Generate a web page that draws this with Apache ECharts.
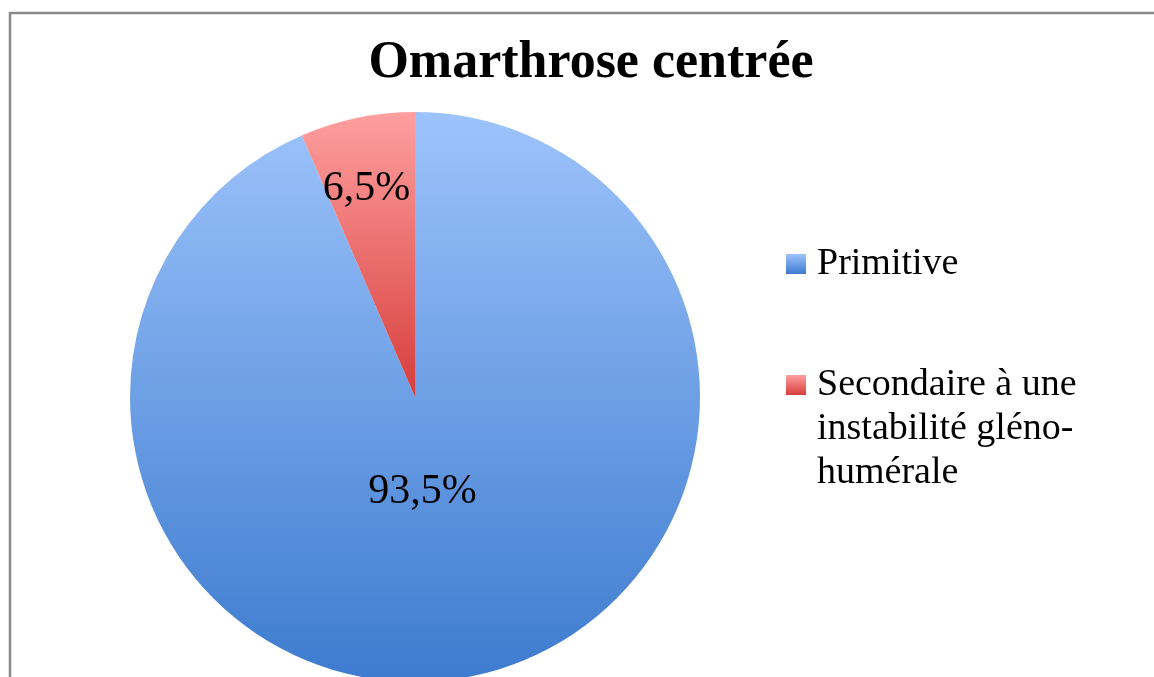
<!DOCTYPE html>
<html>
<head>
<meta charset="utf-8">
<script src="https://cdn.jsdelivr.net/npm/echarts@6/dist/echarts.min.js"></script>
<style>
  html, body { margin: 0; padding: 0; background: #fff; }
  #chart { width: 1154px; height: 677px; }
</style>
</head>
<body>
<div id="chart"></div>
<script>
// données
const categories = ['Primitive', 'Secondaire à une\ninstabilité gléno-\nhumérale']
const values = [93.5, 6.5]
const labels = ['93,5%', '6,5%']

// dégradés façon Excel (haut clair -> bas foncé)
const gradients = [
  ['#9dc3fb', '#3d7bcf'],
  ['#ff9f9f', '#d63e3c']
]
function grad (c) {
  return {
    type: 'linear', x: 0, y: 0, x2: 0, y2: 1,
    colorStops: [{ offset: 0, color: c[0] }, { offset: 1, color: c[1] }],
    global: false
  }
}

const font = '"Liberation Serif", "DejaVu Serif", serif'
const legendText = {
  fontFamily: font,
  fontSize: 38,
  lineHeight: 44,
  color: '#000',
  padding: [0, 0, 0, 6]
}

let myChart = echarts.init(document.getElementById('chart'))
myChart.setOption({
  animation: false,
  title: {
    text: 'Omarthrose centrée',
    left: 586,
    textAlign: 'center',
    top: 33,
    textStyle: {
      fontFamily: font,
      fontWeight: 'bold',
      fontSize: 52,
      color: '#000'
    }
  },
  legend: [
    {
      orient: 'vertical',
      left: 781,
      top: 237,
      itemWidth: 20,
      itemHeight: 20,
      icon: 'rect',
      data: [categories[0]],
      textStyle: legendText
    },
    {
      orient: 'vertical',
      left: 781,
      top: 270,
      itemWidth: 20,
      itemHeight: 20,
      icon: 'rect',
      data: [categories[1]],
      // deux lignes vides devant : la 1re ligne du texte reste en face de l'icône
      formatter: (name) => '\n\n' + name,
      textStyle: legendText
    }
  ],
  graphic: [
    {
      type: 'rect',
      silent: true,
      shape: { x: 10, y: 13, width: 1200, height: 720 },
      style: { fill: 'none', stroke: '#898989', lineWidth: 2.5 }
    }
  ],
  series: [
    {
      type: 'pie',
      center: [415, 397],
      radius: 285,
      startAngle: 90,
      clockwise: true,
      avoidLabelOverlap: false,
      data: categories.map((name, i) => ({
        name: name,
        value: values[i],
        itemStyle: { color: grad(gradients[i]) }
      })),
      label: {
        show: true,
        position: 'inside',
        formatter: (p) => labels[p.dataIndex],
        fontFamily: font,
        fontSize: 42,
        color: '#000'
      },
      labelLine: { show: false },
      labelLayout: function (p) {
        // placement des étiquettes comme dans l'original
        if (p.dataIndex === 0) return { dx: -22, dy: -48 }
        return { dx: -19, dy: -66 }
      },
      emphasis: { disabled: true },
      itemStyle: { borderWidth: 0 }
    }
  ]
})
</script>
</body>
</html>
